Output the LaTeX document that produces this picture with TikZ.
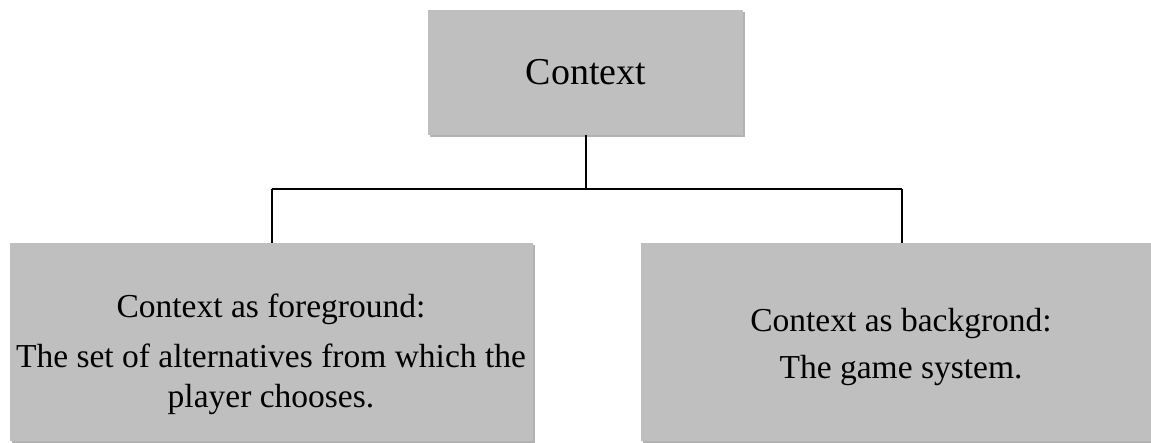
\documentclass[tikz,border=0pt]{standalone}
\usepackage{fontspec}
\setmainfont{Liberation Serif}
\usetikzlibrary{shadows}
\definecolor{boxgray}{HTML}{BFBFBF}
\begin{document}
\begin{tikzpicture}[x=1pt,y=-1pt,
  box/.style={fill=boxgray, draw=none, inner sep=0pt,
    drop shadow={shadow xshift=1.5pt, shadow yshift=-1.5pt, opacity=0.3, fill=black}},
  link/.style={line width=2pt, black},
  bigtxt/.style={anchor=base, inner sep=0pt, font=\fontsize{38}{44}\selectfont},
  txt/.style={anchor=base, inner sep=0pt, font=\fontsize{33.5}{40}\selectfont}]
\useasboundingbox (0,0) rectangle (1151,442);
\node[box, minimum width=315pt, minimum height=125pt] (top) at (585.5,72.5) {};
\node[box, minimum width=523pt, minimum height=198pt] (left) at (271.5,342) {};
\node[box, minimum width=521pt, minimum height=198pt] (right) at (901.5,342) {};
\node[bigtxt] (ttop) at (586,84) {Context};
\node[txt] (tl1) at (271,317.5) {Context as foreground:};
\node[txt] (tl2) at (271,367.5) {The set of alternatives from which the};
\node[txt] (tl3) at (271,407) {player chooses.};
\node[txt] (tr1) at (901,331) {Context as backgrond:};
\node[txt] (tr2) at (901,378.5) {The game system.};
\coordinate (jc) at (top.south |- 0,189);
\coordinate (jl) at (left.north |- 0,189);
\coordinate (jr) at (right.north |- 0,189);
\draw[link] (top.south) -- (jc);
\draw[link] (jl) -- (jr);
\draw[link] (jl) -- (left.north);
\draw[link] (jr) -- (right.north);
\end{tikzpicture}
\end{document}
